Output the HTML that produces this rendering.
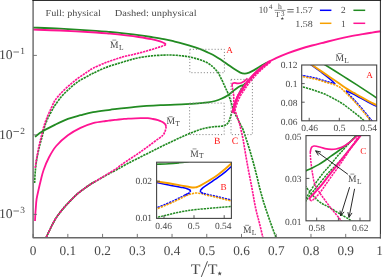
<!DOCTYPE html>
<html><head><meta charset="utf-8"><title>chart</title>
<style>
html,body{margin:0;padding:0;background:#fff;}
body{width:383px;height:277px;overflow:hidden;}
svg{display:block;font-family:"Liberation Serif",serif;}
svg{will-change:transform;}
svg text{text-rendering:geometricPrecision;}
svg path{stroke-linecap:butt;stroke-linejoin:round;}
</style></head><body>
<svg width="383" height="277" viewBox="0 0 383 277">
<rect width="383" height="277" fill="#fff"/>
<path d="M34.60 183.00 C34.73 180.83 35.00 174.17 35.40 170.00 C35.80 165.83 36.27 162.17 37.00 158.00 C37.73 153.83 38.87 148.83 39.80 145.00 C40.73 141.17 41.82 138.00 42.60 135.00 C43.38 132.00 43.60 129.83 44.50 127.00 C45.40 124.17 46.55 121.13 48.00 118.00 C49.45 114.87 51.93 110.47 53.20 108.20 C54.47 105.93 54.22 106.35 55.60 104.40 C56.98 102.45 59.47 98.87 61.50 96.50 C63.53 94.13 65.70 92.18 67.80 90.20 C69.90 88.22 72.00 86.28 74.10 84.60 C76.20 82.92 78.08 81.53 80.40 80.10 C82.72 78.67 85.88 77.13 88.00 76.00 C90.12 74.87 90.13 74.72 93.10 73.30 C96.07 71.88 101.58 69.15 105.80 67.50 C110.02 65.85 114.40 64.65 118.40 63.40 C122.40 62.15 126.43 60.93 129.80 60.00 C133.17 59.07 135.02 58.48 138.60 57.80 C142.18 57.12 147.08 56.35 151.30 55.90 C155.52 55.45 160.78 55.25 163.90 55.10 C167.02 54.95 167.93 54.97 170.00 55.00 C172.07 55.03 174.20 55.15 176.30 55.30 C178.40 55.45 180.50 55.65 182.60 55.90 C184.70 56.15 186.78 56.38 188.90 56.80 C191.02 57.22 193.18 57.82 195.30 58.40 C197.42 58.98 199.50 59.52 201.60 60.30 C203.70 61.08 206.05 62.03 207.90 63.10 C209.75 64.17 211.43 65.63 212.70 66.70 C213.97 67.77 214.58 68.48 215.50 69.50 C216.42 70.52 217.33 71.43 218.20 72.80 C219.07 74.17 219.87 76.05 220.70 77.70 C221.53 79.35 222.37 80.92 223.20 82.70 C224.03 84.48 224.85 86.50 225.70 88.40 C226.55 90.30 227.45 91.95 228.30 94.10 C229.15 96.25 230.07 99.05 230.80 101.30 C231.53 103.55 231.97 105.50 232.70 107.60 C233.43 109.70 234.25 111.78 235.20 113.90 C236.15 116.02 237.45 118.40 238.40 120.30 C239.35 122.20 240.10 123.68 240.90 125.30 C241.70 126.92 242.23 127.47 243.20 130.00 C244.17 132.53 245.52 136.83 246.70 140.50 C247.88 144.17 249.18 148.25 250.30 152.00 C251.42 155.75 252.32 159.00 253.40 163.00 C254.48 167.00 255.73 171.75 256.80 176.00 C257.87 180.25 258.82 184.67 259.80 188.50 C260.78 192.33 261.75 195.75 262.70 199.00 C263.65 202.25 264.23 204.17 265.50 208.00 C266.77 211.83 268.55 217.08 270.30 222.00 C272.05 226.92 275.05 234.92 276.00 237.50" fill="none" stroke="#228b22" stroke-width="1.65" stroke-dasharray="2.3 0.8" />
<path d="M46.20 237.30 C46.78 236.08 48.65 232.17 49.70 230.00 C50.75 227.83 51.35 226.45 52.50 224.30 C53.65 222.15 54.87 219.67 56.60 217.10 C58.33 214.53 60.78 211.43 62.90 208.90 C65.02 206.37 66.93 204.37 69.30 201.90 C71.67 199.43 74.55 196.35 77.10 194.10 C79.65 191.85 82.30 190.08 84.60 188.40 C86.90 186.72 88.78 185.33 90.90 184.00 C93.02 182.67 95.18 181.60 97.30 180.40 C99.42 179.20 101.50 177.98 103.60 176.80 C105.70 175.62 107.58 174.55 109.90 173.30 C112.22 172.05 114.55 170.92 117.50 169.30 C120.45 167.68 123.80 165.63 127.60 163.60 C131.40 161.57 136.08 159.23 140.30 157.10 C144.52 154.97 149.12 152.70 152.90 150.80 C156.68 148.90 160.15 147.10 163.00 145.70 C165.85 144.30 167.28 143.68 170.00 142.40 C172.72 141.12 176.25 139.38 179.30 138.00 C182.35 136.62 185.18 135.38 188.30 134.10 C191.42 132.82 195.05 131.32 198.00 130.30 C200.95 129.28 203.17 128.62 206.00 128.00 C208.83 127.38 212.67 126.87 215.00 126.60 C217.33 126.33 218.32 126.62 220.00 126.40 C221.68 126.18 223.72 125.93 225.10 125.30 C226.48 124.67 227.45 123.87 228.30 122.60 C229.15 121.33 229.68 119.15 230.20 117.70 C230.72 116.25 230.98 115.15 231.40 113.90 C231.82 112.65 232.28 111.25 232.70 110.20 C233.12 109.15 233.38 109.08 233.90 107.60 C234.42 106.12 235.05 103.40 235.80 101.30 C236.55 99.20 237.37 97.30 238.40 95.00 C239.43 92.70 240.73 89.58 242.00 87.50 C243.27 85.42 245.33 83.33 246.00 82.50" fill="none" stroke="#228b22" stroke-width="1.65" stroke-dasharray="2.3 0.8" />
<path d="M46.20 237.30 C46.78 236.08 48.65 232.17 49.70 230.00 C50.75 227.83 51.35 226.45 52.50 224.30 C53.65 222.15 54.87 219.67 56.60 217.10 C58.33 214.53 60.78 211.43 62.90 208.90 C65.02 206.37 66.93 204.37 69.30 201.90 C71.67 199.43 74.55 196.35 77.10 194.10 C79.65 191.85 82.30 190.08 84.60 188.40 C86.90 186.72 89.17 185.13 90.90 184.00 C92.63 182.87 94.32 182.00 95.00 181.60" fill="none" stroke="#228b22" stroke-width="1.5" />
<path d="M166.10 126.50 C166.03 127.00 165.95 128.52 165.70 129.50 C165.45 130.48 165.05 131.43 164.60 132.40 C164.15 133.37 163.93 134.32 163.00 135.30 C162.07 136.28 160.68 137.05 159.00 138.30 C157.32 139.55 154.98 141.25 152.90 142.80 C150.82 144.35 148.60 146.07 146.50 147.60 C144.40 149.13 142.40 150.53 140.30 152.00 C138.20 153.47 136.02 154.98 133.90 156.40 C131.78 157.82 129.70 159.10 127.60 160.50 C125.50 161.90 123.20 163.43 121.30 164.80 C119.40 166.17 118.10 167.40 116.20 168.70 C114.30 170.00 112.00 171.32 109.90 172.60 C107.80 173.88 105.70 175.13 103.60 176.40 C101.50 177.67 99.42 178.93 97.30 180.20 C95.18 181.47 93.02 182.63 90.90 184.00 C88.78 185.37 86.90 186.72 84.60 188.40 C82.30 190.08 79.65 191.85 77.10 194.10 C74.55 196.35 71.67 199.43 69.30 201.90 C66.93 204.37 65.02 206.37 62.90 208.90 C60.78 211.43 58.33 214.53 56.60 217.10 C54.87 219.67 53.65 222.15 52.50 224.30 C51.35 226.45 50.75 227.83 49.70 230.00 C48.65 232.17 46.78 236.08 46.20 237.30" fill="none" stroke="#ff1493" stroke-width="1.65" stroke-dasharray="2.3 0.8" />
<path d="M165.90 44.70 C165.25 44.95 163.38 45.70 162.00 46.20 C160.62 46.70 160.45 46.82 157.60 47.70 C154.75 48.58 149.12 50.33 144.90 51.50 C140.68 52.67 135.45 53.95 132.30 54.70 C129.15 55.45 128.32 55.40 126.00 56.00 C123.68 56.60 121.77 57.20 118.40 58.30 C115.03 59.40 110.02 60.95 105.80 62.60 C101.58 64.25 96.07 66.73 93.10 68.20 C90.13 69.67 89.48 70.43 88.00 71.40 C86.52 72.37 85.88 72.85 84.20 74.00 C82.52 75.15 80.00 76.75 77.90 78.30 C75.80 79.85 73.70 81.53 71.60 83.30 C69.50 85.07 67.42 86.87 65.30 88.90 C63.18 90.93 60.68 93.48 58.90 95.50 C57.12 97.52 55.88 98.88 54.60 101.00 C53.32 103.12 52.47 105.45 51.20 108.20 C49.93 110.95 48.20 114.53 47.00 117.50 C45.80 120.47 44.97 122.75 44.00 126.00 C43.03 129.25 42.10 133.33 41.20 137.00 C40.30 140.67 39.40 144.17 38.60 148.00 C37.80 151.83 36.97 156.67 36.40 160.00 C35.83 163.33 35.40 166.67 35.20 168.00" fill="none" stroke="#ff1493" stroke-width="1.65" stroke-dasharray="2.3 0.8" />
<path d="M232.00 84.60 C232.10 85.33 232.33 87.27 232.60 89.00 C232.87 90.73 233.38 92.73 233.60 95.00 C233.82 97.27 233.73 100.28 233.90 102.60 C234.07 104.92 234.07 106.58 234.60 108.90 C235.13 111.22 236.27 113.98 237.10 116.50 C237.93 119.02 238.95 121.75 239.60 124.00 C240.25 126.25 240.43 127.50 241.00 130.00 C241.57 132.50 241.98 133.50 243.00 139.00 C244.02 144.50 245.60 154.75 247.10 163.00 C248.60 171.25 250.58 181.00 252.00 188.50 C253.42 196.00 254.37 202.25 255.60 208.00 C256.83 213.75 258.18 218.08 259.40 223.00 C260.62 227.92 262.32 235.08 262.90 237.50" fill="none" stroke="#ff1493" stroke-width="1.65" stroke-dasharray="2.3 0.8" />
<path d="M33.00 27.60 C37.50 27.78 49.50 28.17 60.00 28.70 C70.50 29.23 87.67 30.25 96.00 30.80 C104.33 31.35 105.00 31.53 110.00 32.00 C115.00 32.47 121.23 33.08 126.00 33.60 C130.77 34.12 134.38 34.53 138.60 35.10 C142.82 35.67 147.08 36.33 151.30 37.00 C155.52 37.67 160.12 38.37 163.90 39.10 C167.68 39.83 170.88 40.65 174.00 41.40 C177.12 42.15 179.05 42.60 182.60 43.60 C186.15 44.60 192.13 46.40 195.30 47.40 C198.47 48.40 199.50 48.75 201.60 49.60 C203.70 50.45 205.62 51.40 207.90 52.50 C210.18 53.60 213.07 54.95 215.30 56.20 C217.53 57.45 219.25 58.63 221.30 60.00 C223.35 61.37 225.50 62.93 227.60 64.40 C229.70 65.87 231.78 67.43 233.90 68.80 C236.02 70.17 238.50 71.80 240.30 72.60 C242.10 73.40 243.23 73.60 244.70 73.60 C246.17 73.60 247.53 73.18 249.10 72.60 C250.67 72.02 252.42 71.05 254.10 70.10 C255.78 69.15 257.72 67.78 259.20 66.90 C260.68 66.02 261.53 65.62 263.00 64.80 C264.47 63.98 267.17 62.47 268.00 62.00" fill="none" stroke="#228b22" stroke-width="1.8" />
<path d="M35.00 136.70 C36.27 135.80 39.22 133.32 42.60 131.30 C45.98 129.28 51.08 126.67 55.30 124.60 C59.52 122.53 63.70 120.47 67.90 118.90 C72.10 117.33 76.30 116.33 80.50 115.20 C84.70 114.07 88.18 113.00 93.10 112.10 C98.02 111.20 102.97 110.68 110.00 109.80 C117.03 108.92 126.88 107.58 135.30 106.80 C143.72 106.02 152.08 105.53 160.50 105.10 C168.92 104.67 179.22 104.52 185.80 104.20 C192.38 103.88 196.30 103.50 200.00 103.20 C203.70 102.90 205.50 102.77 208.00 102.40 C210.50 102.03 212.78 101.60 215.00 101.00 C217.22 100.40 219.20 99.72 221.30 98.80 C223.40 97.88 225.38 96.98 227.60 95.50 C229.82 94.02 232.48 91.48 234.60 89.90 C236.72 88.32 238.70 86.83 240.30 86.00 C241.90 85.17 242.95 85.57 244.20 84.90 C245.45 84.23 246.67 83.10 247.80 82.00 C248.93 80.90 249.88 79.58 251.00 78.30 C252.12 77.02 253.33 75.57 254.50 74.30 C255.67 73.03 257.42 71.30 258.00 70.70" fill="none" stroke="#228b22" stroke-width="1.8" />
<path d="M33.00 29.60 C37.50 29.75 49.50 30.02 60.00 30.50 C70.50 30.98 87.67 31.97 96.00 32.50 C104.33 33.03 105.00 33.22 110.00 33.70 C115.00 34.18 121.23 34.85 126.00 35.40 C130.77 35.95 134.38 36.38 138.60 37.00 C142.82 37.62 147.72 38.37 151.30 39.10 C154.88 39.83 157.90 40.70 160.10 41.40 C162.30 42.10 163.53 42.75 164.50 43.30 C165.47 43.85 165.67 44.47 165.90 44.70" fill="none" stroke="#ff1493" stroke-width="1.8" />
<path d="M166.10 126.60 C165.98 126.27 165.82 125.23 165.40 124.60 C164.98 123.97 164.37 123.35 163.60 122.80 C162.83 122.25 161.73 121.73 160.80 121.30 C159.87 120.87 159.30 120.58 158.00 120.20 C156.70 119.82 154.68 119.33 153.00 119.00 C151.32 118.67 149.82 118.33 147.90 118.20 C145.98 118.07 143.60 118.18 141.50 118.20 C139.40 118.22 137.55 118.23 135.30 118.30 C133.05 118.37 130.12 118.47 128.00 118.60 C125.88 118.73 124.60 118.90 122.60 119.10 C120.60 119.30 118.10 119.57 116.00 119.80 C113.90 120.03 111.70 120.30 110.00 120.50 C108.30 120.70 108.62 120.57 105.80 121.00 C102.98 121.43 97.32 121.95 93.10 123.10 C88.88 124.25 84.70 125.87 80.50 127.90 C76.30 129.93 71.95 132.28 67.90 135.30 C63.85 138.32 59.37 142.30 56.20 146.00 C53.03 149.70 51.00 153.50 48.90 157.50 C46.80 161.50 44.95 166.22 43.60 170.00 C42.25 173.78 41.63 176.95 40.80 180.20 C39.97 183.45 39.30 186.37 38.60 189.50 C37.90 192.63 37.07 195.92 36.60 199.00 C36.13 202.08 36.02 205.33 35.80 208.00 C35.58 210.67 35.43 212.83 35.30 215.00 C35.17 217.17 35.05 220.00 35.00 221.00" fill="none" stroke="#ff1493" stroke-width="1.8" />
<path d="M233.40 113.40 C233.72 112.60 234.65 110.40 235.30 108.60 C235.95 106.80 236.50 104.65 237.30 102.60 C238.10 100.55 239.03 98.28 240.10 96.30 C241.17 94.32 242.57 92.42 243.70 90.70 C244.83 88.98 245.83 87.52 246.90 86.00 C247.97 84.48 248.85 83.15 250.10 81.60 C251.35 80.05 252.88 78.33 254.40 76.70 C255.92 75.07 257.57 73.38 259.20 71.80 C260.83 70.22 262.30 68.83 264.20 67.20 C266.10 65.57 269.53 62.87 270.60 62.00" fill="none" stroke="#ff1493" stroke-width="1.65" stroke-dasharray="2.3 0.8" />
<path d="M232.40 112.50 C232.65 111.68 233.33 109.47 233.90 107.60 C234.47 105.73 235.03 103.40 235.80 101.30 C236.57 99.20 237.45 96.95 238.50 95.00 C239.55 93.05 240.97 91.28 242.10 89.60 C243.23 87.92 244.23 86.40 245.30 84.90 C246.37 83.40 247.23 82.15 248.50 80.60 C249.77 79.05 251.33 77.25 252.90 75.60 C254.47 73.95 256.22 72.25 257.90 70.70 C259.58 69.15 260.98 67.88 263.00 66.30 C265.02 64.72 268.83 62.05 270.00 61.20" fill="none" stroke="#ff1493" stroke-width="2.4" />
<path d="M232.40 112.50 C232.65 111.68 233.33 109.47 233.90 107.60 C234.47 105.73 235.03 103.40 235.80 101.30 C236.57 99.20 237.45 96.95 238.50 95.00 C239.55 93.05 240.97 91.28 242.10 89.60 C243.23 87.92 244.23 86.40 245.30 84.90 C246.37 83.40 247.23 82.15 248.50 80.60 C249.77 79.05 251.33 77.25 252.90 75.60 C254.47 73.95 256.22 72.25 257.90 70.70 C259.58 69.15 260.98 67.88 263.00 66.30 C265.02 64.72 267.83 62.55 270.00 61.20 C272.17 59.85 273.00 59.53 276.00 58.20 C279.00 56.87 284.00 54.73 288.00 53.20 C292.00 51.67 296.00 50.28 300.00 49.00 C304.00 47.72 307.83 46.63 312.00 45.50 C316.17 44.37 320.75 43.27 325.00 42.20 C329.25 41.13 333.33 40.07 337.50 39.10 C341.67 38.13 345.78 37.23 350.00 36.40 C354.22 35.57 359.13 34.73 362.80 34.10 C366.47 33.47 368.97 33.08 372.00 32.60 C375.03 32.12 379.50 31.43 381.00 31.20" fill="none" stroke="#ff1493" stroke-width="1.95" />
<path d="M232.00 84.80 C232.12 84.57 232.27 83.73 232.70 83.40 C233.13 83.07 233.77 82.80 234.60 82.80 C235.43 82.80 236.65 83.37 237.70 83.40 C238.75 83.43 239.95 83.27 240.90 83.00 C241.85 82.73 242.63 82.27 243.40 81.80 C244.17 81.33 244.82 80.78 245.50 80.20 C246.18 79.62 247.17 78.62 247.50 78.30" fill="none" stroke="#ff1493" stroke-width="1.8" />
<rect x="189.8" y="49.3" width="34.6" height="23.4" stroke="#858585" stroke-width="1.0" stroke-dasharray="1.1 2.0" fill="none"/>
<rect x="189.6" y="103.1" width="34.6" height="31.5" stroke="#858585" stroke-width="1.0" stroke-dasharray="1.1 2.0" fill="none"/>
<rect x="231.0" y="79.4" width="21.4" height="55.2" stroke="#858585" stroke-width="1.0" stroke-dasharray="1.1 2.0" fill="none"/>
<path d="M33.10 0 V237.70 H380.95" fill="none" stroke="#686868" stroke-width="1.4" stroke-linejoin="miter"/>
<path d="M380.45 0 V238.40" fill="none" stroke="#3a3a3a" stroke-width="1.15"/>
<path d="M32.40 0.45 H381.05" stroke="#161616" stroke-width="0.95"/>
<path d="M33.10 237.70 v-3.8 M67.84 237.70 v-3.8 M102.57 237.70 v-3.8 M137.31 237.70 v-3.8 M172.04 237.70 v-3.8 M206.77 237.70 v-3.8 M241.51 237.70 v-3.8 M276.25 237.70 v-3.8 M310.98 237.70 v-3.8 M345.71 237.70 v-3.8 M380.45 237.70 v-3.8 M33.10 55.40 h3.8 M33.10 134.90 h3.8 M33.10 214.40 h3.8" stroke="#686868" stroke-width="0.9" fill="none"/>
<text x="33.10" y="254.90" font-size="13.3" text-anchor="middle" fill="#484848" >0</text>
<text x="67.84" y="254.90" font-size="13.3" text-anchor="middle" fill="#484848" >0.1</text>
<text x="102.57" y="254.90" font-size="13.3" text-anchor="middle" fill="#484848" >0.2</text>
<text x="137.31" y="254.90" font-size="13.3" text-anchor="middle" fill="#484848" >0.3</text>
<text x="172.04" y="254.90" font-size="13.3" text-anchor="middle" fill="#484848" >0.4</text>
<text x="206.77" y="254.90" font-size="13.3" text-anchor="middle" fill="#484848" >0.5</text>
<text x="241.51" y="254.90" font-size="13.3" text-anchor="middle" fill="#484848" >0.6</text>
<text x="276.25" y="254.90" font-size="13.3" text-anchor="middle" fill="#484848" >0.7</text>
<text x="310.98" y="254.90" font-size="13.3" text-anchor="middle" fill="#484848" >0.8</text>
<text x="345.71" y="254.90" font-size="13.3" text-anchor="middle" fill="#484848" >0.9</text>
<text x="379.65" y="254.90" font-size="13.3" text-anchor="middle" fill="#484848" >1</text>
<text x="-1.0" y="59.40" font-size="13.4" fill="#484848" textLength="13.7" lengthAdjust="spacingAndGlyphs">10</text>
<path d="M13.4 52.00 h5.6" stroke="#484848" stroke-width="0.75"/>
<text x="22.50" y="54.20" font-size="9.4" text-anchor="middle" fill="#484848" >1</text>
<text x="-1.0" y="138.90" font-size="13.4" fill="#484848" textLength="13.7" lengthAdjust="spacingAndGlyphs">10</text>
<path d="M13.4 131.50 h5.6" stroke="#484848" stroke-width="0.75"/>
<text x="22.50" y="133.70" font-size="9.4" text-anchor="middle" fill="#484848" >2</text>
<text x="-1.0" y="218.40" font-size="13.4" fill="#484848" textLength="13.7" lengthAdjust="spacingAndGlyphs">10</text>
<path d="M13.4 211.00 h5.6" stroke="#484848" stroke-width="0.75"/>
<text x="22.50" y="213.20" font-size="9.4" text-anchor="middle" fill="#484848" >3</text>
<text x="190.8" y="273.6" font-size="14.6" fill="#484848" textLength="9.7" lengthAdjust="spacingAndGlyphs">T</text>
<path d="M201.3 276.9 L207.5 261.3" stroke="#484848" stroke-width="0.95" fill="none"/>
<text x="207.8" y="273.6" font-size="14.6" fill="#484848" textLength="9.7" lengthAdjust="spacingAndGlyphs">T</text>
<polygon points="219.70,271.15 220.28,272.70 221.93,272.77 220.64,273.80 221.08,275.40 219.70,274.49 218.32,275.40 218.76,273.80 217.47,272.77 219.12,272.70" fill="#484848"/>
<text x="45.50" y="16.10" font-size="9.2" text-anchor="start" fill="#484848" textLength="55.4" lengthAdjust="spacingAndGlyphs">Full: physical</text>
<text x="114.80" y="16.10" font-size="9.2" text-anchor="start" fill="#484848" textLength="81.8" lengthAdjust="spacingAndGlyphs">Dashed: unphysical</text>
<text x="258.8" y="12.9" font-size="9.6" fill="#484848" textLength="9.0" lengthAdjust="spacingAndGlyphs">10</text>
<text x="270.70" y="9.30" font-size="6.8" text-anchor="middle" fill="#484848" >4</text>
<text x="280.00" y="9.00" font-size="7.6" text-anchor="middle" fill="#484848" >h</text>
<path d="M274.5 10.35 h11" stroke="#484848" stroke-width="0.6"/>
<text x="277.40" y="17.40" font-size="7.8" text-anchor="middle" fill="#484848" >T</text>
<text x="282.70" y="15.70" font-size="7.0" text-anchor="middle" fill="#484848" >3</text>
<polygon points="282.30,16.70 282.74,17.89 284.01,17.94 283.02,18.73 283.36,19.96 282.30,19.26 281.24,19.96 281.58,18.73 280.59,17.94 281.86,17.89" fill="#484848"/>
<path d="M287.3 9.55 h6.4 M287.3 11.95 h6.4" stroke="#484848" stroke-width="0.8"/>
<text x="295.20" y="12.90" font-size="9.3" text-anchor="start" fill="#484848" textLength="17.6" lengthAdjust="spacingAndGlyphs">1.57</text>
<text x="295.20" y="27.20" font-size="9.3" text-anchor="start" fill="#484848" textLength="17.6" lengthAdjust="spacingAndGlyphs">1.58</text>
<text x="343.40" y="13.40" font-size="9.3" text-anchor="middle" fill="#484848" >2</text>
<text x="343.40" y="27.00" font-size="9.3" text-anchor="middle" fill="#484848" >1</text>
<path d="M319.9 10.3 h11.5" stroke="#0000ff" stroke-width="1.5"/>
<path d="M319.9 23.3 h11.5" stroke="#f7a000" stroke-width="1.5"/>
<path d="M353.4 10.3 h11.8" stroke="#228b22" stroke-width="1.5"/>
<path d="M353.4 23.3 h11.8" stroke="#ff1493" stroke-width="1.5"/>
<text x="110.10" y="47.80" font-size="9.9" fill="#484848" textLength="8.50" lengthAdjust="spacingAndGlyphs">M</text><text x="118.90" y="49.50" font-size="7.5" fill="#484848">L</text><path d="M112.39 40.12 h3.91" stroke="#484848" stroke-width="0.6"/>
<text x="166.40" y="124.40" font-size="9.9" fill="#484848" textLength="8.50" lengthAdjust="spacingAndGlyphs">M</text><text x="175.20" y="126.10" font-size="7.5" fill="#484848">T</text><path d="M168.69 116.72 h3.91" stroke="#484848" stroke-width="0.6"/>
<text x="242.90" y="233.00" font-size="9.9" fill="#484848" textLength="8.50" lengthAdjust="spacingAndGlyphs">M</text><text x="251.70" y="234.70" font-size="7.5" fill="#484848">L</text><path d="M245.19 225.32 h3.91" stroke="#484848" stroke-width="0.6"/>
<text x="229.60" y="53.00" font-size="9.2" text-anchor="middle" fill="#ff1a1a" >A</text>
<text x="217.20" y="144.00" font-size="9.6" text-anchor="middle" fill="#ff1a1a" >B</text>
<text x="235.00" y="144.00" font-size="9.8" text-anchor="middle" fill="#ff1a1a" >C</text>
<clipPath id="ca"><rect x="301.7" y="65.0" width="75.0" height="55.8"/></clipPath>
<rect x="301.7" y="65.0" width="75.0" height="55.8" fill="#fff"/>
<g clip-path="url(#ca)">
<path d="M323.40 63.80 C323.67 63.97 323.07 63.60 325.00 64.80 C326.93 66.00 331.23 68.63 335.00 71.00 C338.77 73.37 343.38 76.32 347.60 79.00 C351.82 81.68 356.08 84.37 360.30 87.10 C364.52 89.83 369.95 93.43 372.90 95.40 C375.85 97.37 377.15 98.32 378.00 98.90" fill="none" stroke="#228b22" stroke-width="1.65" />
<path d="M300.00 86.10 C300.28 86.18 299.63 86.00 301.70 86.60 C303.77 87.20 308.68 88.50 312.40 89.70 C316.12 90.90 320.23 92.20 324.00 93.80 C327.77 95.40 332.12 97.77 335.00 99.30 C337.88 100.83 339.20 101.65 341.30 103.00 C343.40 104.35 345.50 105.85 347.60 107.40 C349.70 108.95 351.78 110.63 353.90 112.30 C356.02 113.97 358.72 116.10 360.30 117.40 C361.88 118.70 362.45 119.23 363.40 120.10 C364.35 120.97 365.57 122.18 366.00 122.60" fill="none" stroke="#228b22" stroke-width="1.5" stroke-dasharray="2.25 0.85" />
<clipPath id="cab"><rect x="300" y="60" width="35.4" height="70"/><rect x="346.0" y="60" width="34" height="70"/></clipPath>
<g clip-path="url(#cab)"><path d="M300.30 75.20 C300.58 75.25 300.57 75.25 302.00 75.50 C303.43 75.75 306.70 76.28 308.90 76.70 C311.10 77.12 313.08 77.47 315.20 78.00 C317.32 78.53 319.48 79.27 321.60 79.90 C323.72 80.53 325.80 81.20 327.90 81.80 C330.00 82.40 332.32 82.85 334.20 83.50 C336.08 84.15 337.78 84.88 339.20 85.70 C340.62 86.52 341.37 87.22 342.70 88.40 C344.03 89.58 345.42 91.02 347.20 92.80 C348.98 94.58 351.32 96.90 353.40 99.10 C355.48 101.30 357.60 103.58 359.70 106.00 C361.80 108.42 364.12 111.32 366.00 113.60 C367.88 115.88 369.85 118.27 371.00 119.70 C372.15 121.13 372.58 121.78 372.90 122.20" fill="none" stroke="#0000ff" stroke-width="1.5" stroke-dasharray="2.25 0.85" /></g>
<path d="M309.80 63.80 C310.03 63.98 309.28 63.48 311.20 64.90 C313.12 66.32 318.57 70.27 321.30 72.30 C324.03 74.33 325.78 75.63 327.60 77.10 C329.42 78.57 330.95 79.95 332.20 81.10 C333.45 82.25 334.62 83.52 335.10 84.00" fill="none" stroke="#0000ff" stroke-width="1.4" />
<path d="M345.80 90.80 C346.33 91.00 347.65 91.40 349.00 92.00 C350.35 92.60 352.02 93.42 353.90 94.40 C355.78 95.38 357.95 96.63 360.30 97.90 C362.65 99.17 365.05 100.48 368.00 102.00 C370.95 103.52 376.33 106.17 378.00 107.00" fill="none" stroke="#0000ff" stroke-width="1.5" />
<path d="M310.40 63.80 C310.63 63.97 310.20 63.70 311.80 64.80 C313.40 65.90 316.97 68.33 320.00 70.40 C323.03 72.47 326.67 74.93 330.00 77.20 C333.33 79.47 337.17 82.05 340.00 84.00 C342.83 85.95 344.68 87.42 347.00 88.90 C349.32 90.38 351.68 91.62 353.90 92.90 C356.12 94.18 357.95 95.28 360.30 96.60 C362.65 97.92 365.05 99.27 368.00 100.80 C370.95 102.33 376.33 104.97 378.00 105.80" fill="none" stroke="#f7a000" stroke-width="1.9" />
<path d="M300.00 76.20 C300.28 76.25 300.27 76.25 301.70 76.50 C303.13 76.75 306.40 77.28 308.60 77.70 C310.80 78.12 312.78 78.47 314.90 79.00 C317.02 79.53 319.18 80.27 321.30 80.90 C323.42 81.53 325.50 82.20 327.60 82.80 C329.70 83.40 332.02 83.85 333.90 84.50 C335.78 85.15 337.48 85.88 338.90 86.70 C340.32 87.52 341.07 88.22 342.40 89.40 C343.73 90.58 345.12 92.02 346.90 93.80 C348.68 95.58 351.02 97.90 353.10 100.10 C355.18 102.30 357.30 104.58 359.40 107.00 C361.50 109.42 363.82 112.32 365.70 114.60 C367.58 116.88 369.55 119.27 370.70 120.70 C371.85 122.13 372.28 122.78 372.60 123.20" fill="none" stroke="#f7a000" stroke-width="1.5" stroke-dasharray="2.25 0.85" />
</g>
<rect x="301.7" y="65.0" width="75.0" height="55.8" fill="none" stroke="#444" stroke-width="1.1"/>
<path d="M309.20 120.80 v-3.0 M339.30 120.80 v-3.0 M369.30 120.80 v-3.0 M301.70 83.60 h3.0 M301.70 102.20 h3.0" stroke="#444" stroke-width="0.9" fill="none"/>
<text x="297.40" y="68.40" font-size="9.4" text-anchor="end" fill="#484848" textLength="16.6" lengthAdjust="spacingAndGlyphs">0.12</text>
<text x="297.40" y="87.10" font-size="9.4" text-anchor="end" fill="#484848" textLength="11.9" lengthAdjust="spacingAndGlyphs">0.1</text>
<text x="297.40" y="105.80" font-size="9.4" text-anchor="end" fill="#484848" textLength="16.6" lengthAdjust="spacingAndGlyphs">0.08</text>
<text x="297.40" y="124.50" font-size="9.4" text-anchor="end" fill="#484848" textLength="16.6" lengthAdjust="spacingAndGlyphs">0.06</text>
<text x="309.60" y="131.20" font-size="9.4" text-anchor="middle" fill="#484848" textLength="16.6" lengthAdjust="spacingAndGlyphs">0.46</text>
<text x="339.50" y="131.20" font-size="9.4" text-anchor="middle" fill="#484848" textLength="11.9" lengthAdjust="spacingAndGlyphs">0.5</text>
<text x="368.60" y="131.20" font-size="9.4" text-anchor="middle" fill="#484848" textLength="16.6" lengthAdjust="spacingAndGlyphs">0.54</text>
<text x="335.50" y="61.20" font-size="9.9" fill="#484848" textLength="8.50" lengthAdjust="spacingAndGlyphs">M</text><text x="344.30" y="62.90" font-size="7.5" fill="#484848">L</text><path d="M337.80 53.52 h3.91" stroke="#484848" stroke-width="0.6"/>
<text x="369.50" y="77.80" font-size="9.2" text-anchor="middle" fill="#ff1a1a" >A</text>
<clipPath id="cc"><rect x="306" y="135.6" width="64" height="85.20000000000002"/></clipPath>
<rect x="306" y="135.6" width="64" height="85.20000000000002" fill="#fff"/>
<g clip-path="url(#cc)">
<path d="M357.00 134.00 C356.58 134.53 355.67 135.83 354.50 137.20 C353.33 138.57 351.77 140.22 350.00 142.20 C348.23 144.18 345.97 146.80 343.90 149.10 C341.83 151.40 339.85 153.38 337.60 156.00 C335.35 158.62 332.75 162.03 330.40 164.80 C328.05 167.57 325.92 169.62 323.50 172.60 C321.08 175.58 318.22 179.43 315.90 182.70 C313.58 185.97 311.28 189.57 309.60 192.20 C307.92 194.83 306.65 197.03 305.80 198.50 C304.95 199.97 304.72 200.58 304.50 201.00" fill="none" stroke="#228b22" stroke-width="1.5" stroke-dasharray="2.25 0.85" />
<path d="M362.00 133.60 C360.50 135.53 356.22 141.17 353.00 145.20 C349.78 149.23 345.60 154.40 342.70 157.80 C339.80 161.20 338.10 162.97 335.60 165.60 C333.10 168.23 330.63 170.30 327.70 173.60 C324.77 176.90 320.45 182.42 318.00 185.40 C315.55 188.38 314.62 189.50 313.00 191.50 C311.38 193.50 309.63 195.62 308.30 197.40 C306.97 199.18 305.55 201.40 305.00 202.20" fill="none" stroke="#228b22" stroke-width="1.5" stroke-dasharray="2.25 0.85" />
<path d="M305.00 185.60 C305.83 186.67 308.18 189.80 310.00 192.00 C311.82 194.20 313.90 196.88 315.90 198.80 C317.90 200.72 319.68 202.02 322.00 203.50 C324.32 204.98 326.85 206.00 329.80 207.70 C332.75 209.40 336.57 211.82 339.70 213.70 C342.83 215.58 346.55 217.70 348.60 219.00 C350.65 220.30 351.43 221.08 352.00 221.50" fill="none" stroke="#228b22" stroke-width="1.5" stroke-dasharray="2.25 0.85" />
<path d="M310.30 151.80 C310.32 152.50 310.30 154.33 310.40 156.00 C310.50 157.67 310.67 159.63 310.90 161.80 C311.13 163.97 311.47 166.68 311.80 169.00 C312.13 171.32 312.38 173.10 312.90 175.70 C313.42 178.30 313.75 181.73 314.90 184.60 C316.05 187.47 318.20 190.42 319.80 192.90 C321.40 195.38 322.83 197.20 324.50 199.50 C326.17 201.80 328.08 204.48 329.80 206.70 C331.52 208.92 333.15 210.80 334.80 212.80 C336.45 214.80 338.50 217.17 339.70 218.70 C340.90 220.23 341.62 221.45 342.00 222.00" fill="none" stroke="#ff1493" stroke-width="1.5" stroke-dasharray="2.25 0.85" />
<path d="M309.80 199.60 C310.15 199.77 310.95 200.95 311.90 200.60 C312.85 200.25 314.18 198.78 315.50 197.50 C316.82 196.22 318.15 194.98 319.80 192.90 C321.45 190.82 323.37 187.88 325.40 185.00 C327.43 182.12 329.77 178.72 332.00 175.60 C334.23 172.48 336.30 169.90 338.80 166.30 C341.30 162.70 344.05 158.47 347.00 154.00 C349.95 149.53 354.33 142.83 356.50 139.50 C358.67 136.17 359.42 134.92 360.00 134.00" fill="none" stroke="#ff1493" stroke-width="1.5" stroke-dasharray="2.25 0.85" />
<path d="M305.00 171.30 C305.17 171.22 304.83 171.35 306.00 170.80 C307.17 170.25 309.90 169.03 312.00 168.00 C314.10 166.97 316.43 165.85 318.60 164.60 C320.77 163.35 322.88 161.95 325.00 160.50 C327.12 159.05 329.20 157.40 331.30 155.90 C333.40 154.40 335.50 153.00 337.60 151.50 C339.70 150.00 341.80 148.50 343.90 146.90 C346.00 145.30 348.18 143.68 350.20 141.90 C352.22 140.12 354.70 137.52 356.00 136.20 C357.30 134.88 357.67 134.37 358.00 134.00" fill="none" stroke="#228b22" stroke-width="1.65" />
<path d="M360.00 133.40 C359.25 134.08 357.13 136.10 355.50 137.50 C353.87 138.90 351.87 140.52 350.20 141.80 C348.53 143.08 347.03 144.25 345.50 145.20 C343.97 146.15 342.58 146.87 341.00 147.50 C339.42 148.13 337.62 148.68 336.00 149.00 C334.38 149.32 333.13 149.47 331.30 149.40 C329.47 149.33 326.92 148.98 325.00 148.60 C323.08 148.22 321.22 147.50 319.80 147.10 C318.38 146.70 317.48 146.38 316.50 146.20 C315.52 146.02 314.65 145.88 313.90 146.00 C313.15 146.12 312.50 146.42 312.00 146.90 C311.50 147.38 311.17 148.05 310.90 148.90 C310.63 149.75 310.48 151.48 310.40 152.00" fill="none" stroke="#ff1493" stroke-width="1.6" />
<path d="M362.00 133.60 C360.50 135.53 356.18 141.17 353.00 145.20 C349.82 149.23 345.63 154.40 342.90 157.80 C340.17 161.20 338.70 162.97 336.60 165.60 C334.50 168.23 332.87 170.30 330.30 173.60 C327.73 176.90 323.62 182.42 321.20 185.40 C318.78 188.38 317.35 189.78 315.80 191.50 C314.25 193.22 312.93 194.55 311.90 195.70 C310.87 196.85 309.95 197.75 309.60 198.40 C309.25 199.05 309.77 199.40 309.80 199.60" fill="none" stroke="#ff1493" stroke-width="2.0" />
</g>
<rect x="306" y="135.6" width="64" height="85.20000000000002" fill="none" stroke="#444" stroke-width="1.1"/>
<path d="M316.70 220.80 v-3.2 M338.40 220.80 v-3.2 M360.00 220.80 v-3.2 M306.00 178.40 h3.4" stroke="#444" stroke-width="0.9" fill="none"/>
<text x="301.50" y="139.50" font-size="9.4" text-anchor="end" fill="#484848" textLength="16.6" lengthAdjust="spacingAndGlyphs">0.05</text>
<text x="301.50" y="182.00" font-size="9.4" text-anchor="end" fill="#484848" textLength="16.6" lengthAdjust="spacingAndGlyphs">0.03</text>
<text x="301.50" y="224.90" font-size="9.4" text-anchor="end" fill="#484848" textLength="16.6" lengthAdjust="spacingAndGlyphs">0.01</text>
<text x="316.80" y="231.40" font-size="9.4" text-anchor="middle" fill="#484848" textLength="16.6" lengthAdjust="spacingAndGlyphs">0.58</text>
<text x="360.20" y="231.40" font-size="9.4" text-anchor="middle" fill="#484848" textLength="16.6" lengthAdjust="spacingAndGlyphs">0.62</text>
<text x="363.20" y="154.00" font-size="9.2" text-anchor="middle" fill="#ff1a1a" >C</text>
<text x="348.10" y="181.80" font-size="9.9" fill="#484848" textLength="8.50" lengthAdjust="spacingAndGlyphs">M</text><text x="356.90" y="183.50" font-size="7.5" fill="#484848">L</text><path d="M350.40 174.12 h3.91" stroke="#484848" stroke-width="0.6"/>
<path d="M347.90 174.30 L315.60 150.80 M318.38 155.43 L315.60 150.80 L320.86 152.02" stroke="#1e1e1e" stroke-width="0.95" fill="none" stroke-linejoin="miter"/>
<path d="M349.60 187.20 L340.60 216.00 M344.10 211.88 L340.60 216.00 L340.07 210.63" stroke="#1e1e1e" stroke-width="0.95" fill="none" stroke-linejoin="miter"/>
<path d="M354.60 188.80 L349.00 217.40 M352.03 212.93 L349.00 217.40 L347.88 212.12" stroke="#1e1e1e" stroke-width="0.95" fill="none" stroke-linejoin="miter"/>
<clipPath id="cb"><rect x="156.6" y="162.2" width="74.80000000000001" height="56.20000000000002"/></clipPath>
<rect x="156.6" y="162.2" width="74.80000000000001" height="56.20000000000002" fill="#fff"/>
<g clip-path="url(#cb)">
<path d="M155.00 164.40 C155.27 164.38 154.28 164.42 156.60 164.30 C158.92 164.18 165.17 163.95 168.90 163.70 C172.63 163.45 176.05 163.10 179.00 162.80 C181.95 162.50 184.93 162.12 186.60 161.90 C188.27 161.68 188.60 161.57 189.00 161.50" fill="none" stroke="#228b22" stroke-width="1.65" />
<path d="M155.00 217.80 C156.67 217.42 161.68 216.28 165.00 215.50 C168.32 214.72 171.57 213.83 174.90 213.10 C178.23 212.37 181.43 211.70 185.00 211.10 C188.57 210.50 192.13 209.97 196.30 209.50 C200.47 209.03 205.72 208.67 210.00 208.30 C214.28 207.93 218.17 207.62 222.00 207.30 C225.83 206.98 231.17 206.55 233.00 206.40" fill="none" stroke="#228b22" stroke-width="1.5" stroke-dasharray="2.25 0.85" />
<clipPath id="cbb"><rect x="155" y="160" width="35.0" height="60"/><rect x="200.6" y="160" width="34" height="60"/></clipPath>
<g clip-path="url(#cbb)"><path d="M154.70 208.60 C156.37 207.93 161.38 205.98 164.70 204.60 C168.02 203.22 171.77 201.60 174.60 200.30 C177.43 199.00 179.67 197.80 181.70 196.80 C183.73 195.80 185.33 194.93 186.80 194.30 C188.27 193.67 189.13 193.37 190.50 193.00 C191.87 192.63 193.42 192.20 195.00 192.10 C196.58 192.00 198.63 192.22 200.00 192.40 C201.37 192.58 201.92 192.87 203.20 193.20 C204.48 193.53 205.82 193.93 207.70 194.40 C209.58 194.87 212.00 195.40 214.50 196.00 C217.00 196.60 219.67 197.30 222.70 198.00 C225.73 198.70 231.03 199.83 232.70 200.20" fill="none" stroke="#0000ff" stroke-width="1.5" stroke-dasharray="2.25 0.85" /></g>
<path d="M155.00 182.30 C155.27 182.35 154.28 182.15 156.60 182.60 C158.92 183.05 164.57 184.17 168.90 185.00 C173.23 185.83 179.27 186.85 182.60 187.60 C185.93 188.35 187.53 188.97 188.90 189.50 C190.27 190.03 190.48 190.58 190.80 190.80" fill="none" stroke="#0000ff" stroke-width="1.5" />
<path d="M200.10 190.80 C200.55 190.30 201.50 188.87 202.80 187.80 C204.10 186.73 205.37 186.13 207.90 184.40 C210.43 182.67 215.08 179.50 218.00 177.40 C220.92 175.30 222.90 173.87 225.40 171.80 C227.90 169.73 231.73 166.13 233.00 165.00" fill="none" stroke="#0000ff" stroke-width="1.5" />
<path d="M155.00 181.10 C155.27 181.15 154.28 181.03 156.60 181.40 C158.92 181.77 164.73 182.60 168.90 183.30 C173.07 184.00 178.02 184.95 181.60 185.60 C185.18 186.25 188.12 186.90 190.40 187.20 C192.68 187.50 194.03 187.50 195.30 187.40 C196.57 187.30 197.17 186.90 198.00 186.60 C198.83 186.30 198.65 186.48 200.30 185.60 C201.95 184.72 205.83 182.52 207.90 181.30 C209.97 180.08 211.02 179.38 212.70 178.30 C214.38 177.22 215.88 176.38 218.00 174.80 C220.12 173.22 222.90 170.93 225.40 168.80 C227.90 166.67 231.73 163.13 233.00 162.00" fill="none" stroke="#f7a000" stroke-width="1.9" />
<path d="M155.00 209.60 C156.67 208.93 161.68 206.98 165.00 205.60 C168.32 204.22 172.07 202.60 174.90 201.30 C177.73 200.00 179.97 198.80 182.00 197.80 C184.03 196.80 185.63 195.93 187.10 195.30 C188.57 194.67 189.43 194.37 190.80 194.00 C192.17 193.63 193.72 193.20 195.30 193.10 C196.88 193.00 198.93 193.22 200.30 193.40 C201.67 193.58 202.22 193.87 203.50 194.20 C204.78 194.53 206.12 194.93 208.00 195.40 C209.88 195.87 212.30 196.40 214.80 197.00 C217.30 197.60 219.97 198.30 223.00 199.00 C226.03 199.70 231.33 200.83 233.00 201.20" fill="none" stroke="#f7a000" stroke-width="1.5" stroke-dasharray="2.25 0.85" />
<path d="M190.80 190.90 C190.40 191.30 189.40 192.55 188.40 193.30 C187.40 194.05 185.40 195.05 184.80 195.40" fill="none" stroke="#0000ff" stroke-width="1.5" stroke-dasharray="1.7 0.9" />
<path d="M200.10 190.90 C200.38 191.25 200.98 192.45 201.80 193.00 C202.62 193.55 204.47 194.00 205.00 194.20" fill="none" stroke="#0000ff" stroke-width="1.5" stroke-dasharray="1.7 0.9" />
</g>
<rect x="156.6" y="162.2" width="74.80000000000001" height="56.20000000000002" fill="none" stroke="#444" stroke-width="1.1"/>
<path d="M164.00 218.40 v-3.2 M194.00 218.40 v-3.2 M224.20 218.40 v-3.2 M156.60 181.20 h3.4" stroke="#444" stroke-width="0.9" fill="none"/>
<text x="152.10" y="184.40" font-size="9.4" text-anchor="end" fill="#484848" textLength="16.6" lengthAdjust="spacingAndGlyphs">0.02</text>
<text x="152.10" y="221.20" font-size="9.4" text-anchor="end" fill="#484848" textLength="16.6" lengthAdjust="spacingAndGlyphs">0.01</text>
<text x="163.60" y="228.90" font-size="9.4" text-anchor="middle" fill="#484848" textLength="16.6" lengthAdjust="spacingAndGlyphs">0.46</text>
<text x="193.80" y="228.90" font-size="9.4" text-anchor="middle" fill="#484848" textLength="11.9" lengthAdjust="spacingAndGlyphs">0.5</text>
<text x="223.20" y="228.90" font-size="9.4" text-anchor="middle" fill="#484848" textLength="16.6" lengthAdjust="spacingAndGlyphs">0.54</text>
<text x="190.30" y="156.60" font-size="9.9" fill="#484848" textLength="8.50" lengthAdjust="spacingAndGlyphs">M</text><text x="199.10" y="158.30" font-size="7.5" fill="#484848">T</text><path d="M192.59 148.92 h3.91" stroke="#484848" stroke-width="0.6"/>
<text x="223.50" y="189.70" font-size="9.2" text-anchor="middle" fill="#ff1a1a" >B</text>
</svg>
</body></html>
